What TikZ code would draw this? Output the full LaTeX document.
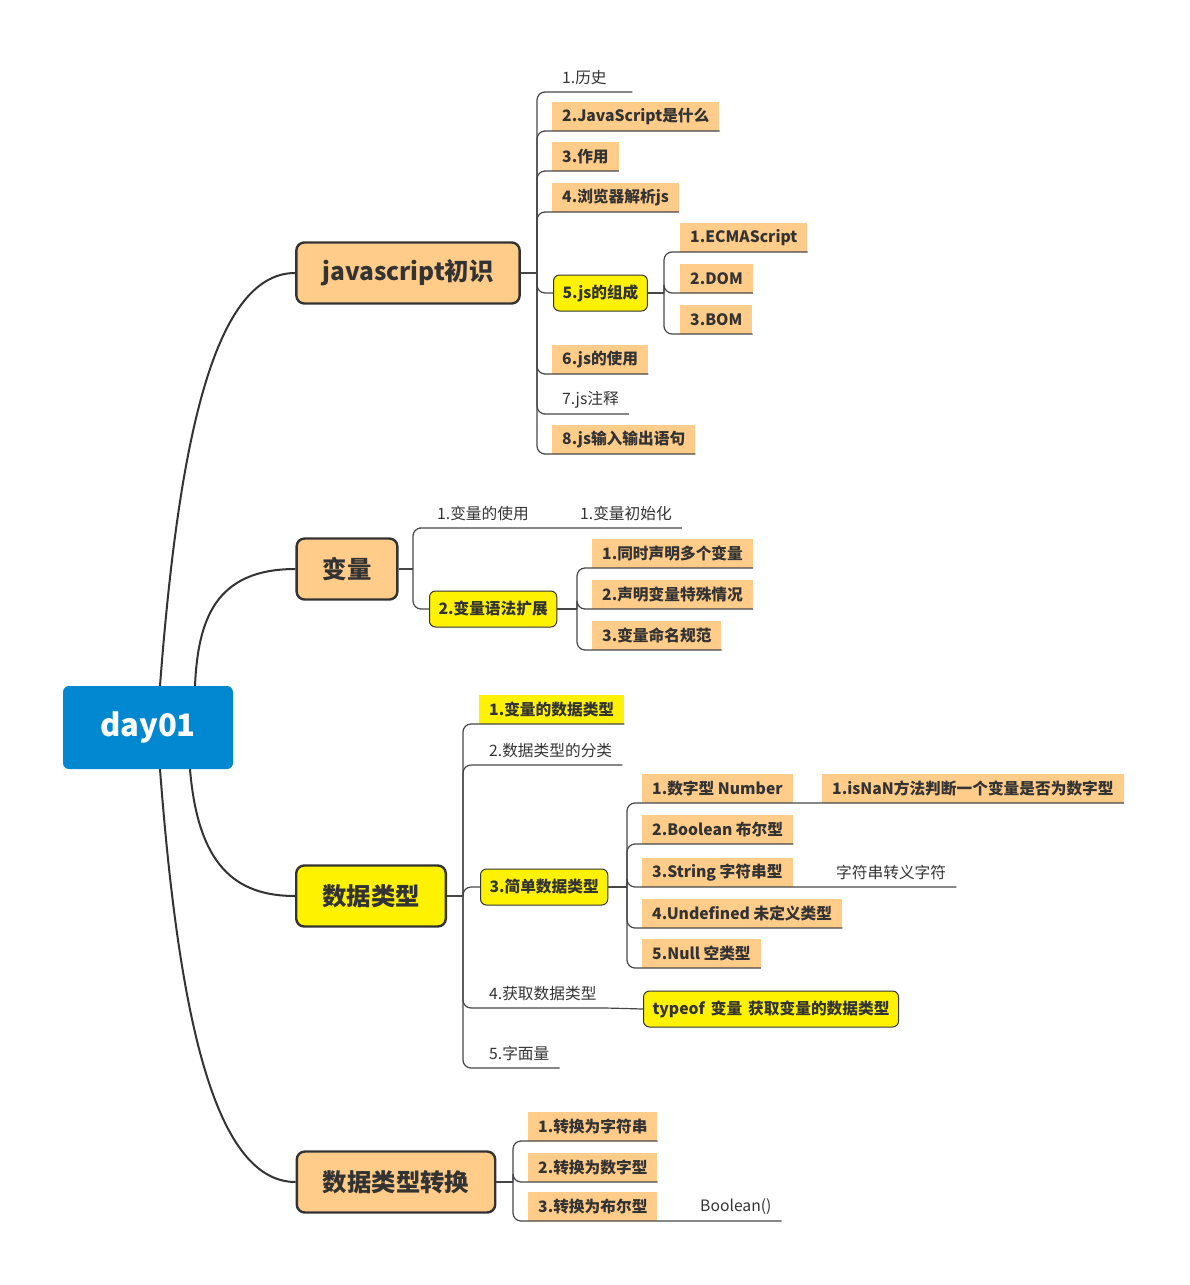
\documentclass[tikz,border=0pt]{standalone}
\usepackage{fontspec}
\setmainfont{Noto Sans CJK SC}
\definecolor{rootblue}{RGB}{2,136,209}
\definecolor{topicfill}{RGB}{255,204,138}
\definecolor{txt}{RGB}{51,51,51}
\definecolor{ln}{RGB}{70,70,70}
\begin{document}
\begin{tikzpicture}[x=1pt, y=-1pt,
    root/.style={fill=rootblue, rounded corners=6pt, text=white, font=\fontsize{31}{36}\selectfont\bfseries, minimum width=170pt, minimum height=83pt},
    topic/.style={draw=txt, line width=2.4pt, fill=topicfill, rounded corners=8pt, text=txt, font=\fontsize{24.4}{28}\selectfont\bfseries, minimum height=61pt, inner xsep=26pt},
    sub/.style={fill=topicfill, text=txt, font=\fontsize{15.7}{18}\selectfont\bfseries, minimum height=29pt, inner xsep=10pt, anchor=south west},
    plain/.style={text=txt, font=\fontsize{15.7}{18}\selectfont, minimum height=29pt, inner xsep=10pt, anchor=south west},
    subbox/.style={draw=txt, line width=1pt, fill=yellow, rounded corners=6pt, text=txt, font=\fontsize{15.7}{18}\selectfont\bfseries, minimum height=36pt, inner xsep=9pt, anchor=west},
    curve/.style={draw=txt, line width=2pt},
    link/.style={draw=ln, line width=1.2pt, rounded corners=8pt},
    under/.style={draw=ln, line width=1.2pt}]
    \useasboundingbox (0,0) rectangle (1190,1285);

    % root and main topics
    \node[root] (day) at (148,727.5) {day01};
    \node[topic] (js) at (408,273) {javascript初识};
    \node[topic] (var) at (347,569) {变量};
    \node[topic, fill=yellow] (type) at (371,896) {数据类型};
    \node[topic] (conv) at (396,1182) {数据类型转换};

    \draw[curve] (day.north -| 160,0) .. controls (178,450) and (212,273) .. (js.west);
    \draw[curve] (day.north -| 195,0) .. controls (198,620) and (215,569) .. (var.west);
    \draw[curve] (day.south -| 190,0) .. controls (198,865) and (235,896) .. (type.west);
    \draw[curve] (day.south -| 160,0) .. controls (178,1005) and (212,1182) .. (conv.west);

    % javascript初识
    \node[plain, text width=60pt, align=left] (h1) at (552,92) {1.历史};
    \node[sub] (h2) at (552,131) {2.JavaScript是什么};
    \node[sub] (h3) at (552,171) {3.作用};
    \node[sub] (h4) at (552,212) {4.浏览器解析js};
    \node[subbox] (h5) at (553,293) {5.js的组成};
    \node[sub] (h6) at (552,374) {6.js的使用};
    \node[plain] (h7) at (552,414) {7.js注释};
    \node[sub] (h8) at (552,454) {8.js输入输出语句};
    \node[sub] (c1) at (680,252) {1.ECMAScript};
    \node[sub] (c2) at (680,293) {2.DOM};
    \node[sub] (c3) at (680,334) {3.BOM};

    \coordinate (jsS) at (537,273);
    \coordinate (h5S) at (664,293);
    \draw[under] (js.east) -- (jsS);
    \foreach \n in {h1,h2,h3,h4,h6,h7,h8}
        \draw[link] (jsS) |- (\n.south west) -- (\n.south east);
    \draw[link] (jsS) |- (h5.west);
    \draw[under] (h5.east) -- (h5S);
    \foreach \n in {c1,c2,c3}
        \draw[link] (h5S) |- (\n.south west) -- (\n.south east);

    % 变量
    \node[plain] (v1) at (427,528) {1.变量的使用};
    \node[plain] (v1a) at (570,528) {1.变量初始化};
    \node[subbox] (v2) at (429,609) {2.变量语法扩展};
    \node[sub] (v2a) at (592,568) {1.同时声明多个变量};
    \node[sub] (v2b) at (592,609) {2.声明变量特殊情况};
    \node[sub] (v2c) at (592,650) {3.变量命名规范};

    \coordinate (varS) at (413,569);
    \coordinate (v2S) at (577,609);
    \draw[under] (var.east) -- (varS);
    \draw[link] (varS) |- (v1.south west) -- (v1.south east) -- (v1a.south east);
    \draw[link] (varS) |- (v2.west);
    \draw[under] (v2.east) -- (v2S);
    \foreach \n in {v2a,v2b,v2c}
        \draw[link] (v2S) |- (\n.south west) -- (\n.south east);

    % 数据类型
    \node[sub, fill=yellow] (d1) at (479,724) {1.变量的数据类型};
    \node[plain] (d2) at (479,765) {2.数据类型的分类};
    \node[subbox] (d3) at (480,887) {3.简单数据类型};
    \node[plain] (d4) at (479,1008) {4.获取数据类型};
    \node[subbox] (d4a) at (643,1009) {typeof\hspace{6pt}变量\hspace{6pt}获取变量的数据类型};
    \node[plain] (d5) at (479,1068) {5.字面量};
    \node[sub] (s1) at (642,803) {1.数字型 Number};
    \node[sub] (s1a) at (822,803) {1.isNaN方法判断一个变量是否为数字型};
    \node[sub] (s2) at (642,844) {2.Boolean 布尔型};
    \node[sub] (s3) at (642,887) {3.String 字符串型};
    \node[plain] (s3a) at (826,887) {字符串转义字符};
    \node[sub] (s4) at (642,928) {4.Undefined 未定义类型};
    \node[sub] (s5) at (642,968) {5.Null 空类型};

    \coordinate (typeS) at (463,896);
    \coordinate (d3S) at (627,887);
    \draw[under] (type.east) -- (typeS);
    \foreach \n in {d1,d2,d5}
        \draw[link] (typeS) |- (\n.south west) -- (\n.south east);
    \draw[link] (typeS) |- (d3.west);
    \draw[link] (typeS) |- (d4.south west) -- (d4.south east) -- (d4a.west);
    \draw[under] (d3.east) -- (d3S);
    \foreach \n in {s2,s4,s5}
        \draw[link] (d3S) |- (\n.south west) -- (\n.south east);
    \draw[link] (d3S) |- (s1.south west) -- (s1a.south east);
    \draw[link] (d3S) |- (s3.south west) -- (s3a.south east);

    % 数据类型转换
    \node[sub] (t1) at (528,1141) {1.转换为字符串};
    \node[sub] (t2) at (528,1182) {2.转换为数字型};
    \node[sub] (t3) at (528,1221) {3.转换为布尔型};
    \node[plain] (t3a) at (690,1221) {Boolean()};

    \coordinate (convS) at (513,1182);
    \draw[under] (conv.east) -- (convS);
    \foreach \n in {t1,t2}
        \draw[link] (convS) |- (\n.south west) -- (\n.south east);
    \draw[link] (convS) |- (t3.south west) -- (t3a.south east);
\end{tikzpicture}
\end{document}
